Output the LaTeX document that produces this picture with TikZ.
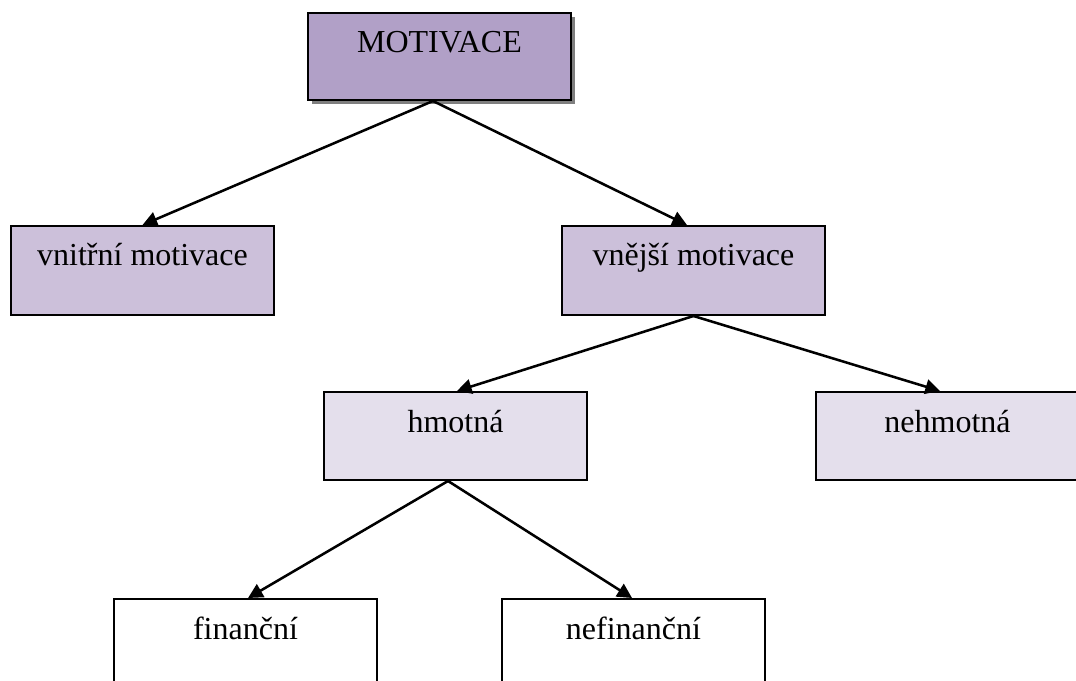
\documentclass[tikz,border=0pt]{standalone}
\usepackage{fontspec}
\setmainfont{Liberation Serif}
\usetikzlibrary{arrows.meta,shadows}
\definecolor{lvA}{HTML}{B1A0C7}
\definecolor{lvB}{HTML}{CCC0DA}
\definecolor{lvC}{HTML}{E4DFEC}
\definecolor{shadowgray}{HTML}{7F7F7F}
\begin{document}
\begin{tikzpicture}[x=0.75pt,y=-0.75pt,
  box/.style={draw=black,line width=1.5pt,rectangle,anchor=north,
    minimum width=197.25pt,inner xsep=0pt,inner ysep=0pt,
    text height=30pt,text depth=36pt,align=center,
    font=\fontsize{24}{28}\selectfont},
  conn/.style={line width=1.9pt,-{Triangle[length=11pt,width=11pt]}}]
\useasboundingbox (0,0) rectangle (1076,681);
\clip (0,0) rectangle (1076,681);
\node[box,fill=lvA,text depth=35.25pt,
  drop shadow={shadow xshift=3pt,shadow yshift=-3pt,fill=shadowgray,opacity=1}]
  (m) at (439.5,12) {MOTIVACE};
\node[box,fill=lvB,text depth=36.75pt] (vn) at (142.5,225) {vnitřní motivace};
\node[box,fill=lvB,text depth=36.75pt] (ve) at (693.5,225) {vnější motivace};
\node[box,fill=lvC] (hm) at (455.5,391) {hmotná};
\node[box,fill=lvC] (nh) at (947.5,391) {nehmotná};
\node[box,fill=white] (fi) at (245.5,598) {finanční};
\node[box,fill=white] (nf) at (633.5,598) {nefinanční};
\draw[conn] ([xshift=-4.9pt]m.south) -- (vn.north);
\draw[conn] ([xshift=-4.9pt]m.south) -- ([xshift=-4.9pt]ve.north);
\draw[conn] (ve.south) -- ([xshift=1.1pt]hm.north);
\draw[conn] (ve.south) -- ([xshift=-5.6pt]nh.north);
\draw[conn] ([xshift=-5.6pt]hm.south) -- ([xshift=1.9pt]fi.north);
\draw[conn] ([xshift=-5.6pt]hm.south) -- ([xshift=-1.1pt]nf.north);
\end{tikzpicture}
\end{document}
